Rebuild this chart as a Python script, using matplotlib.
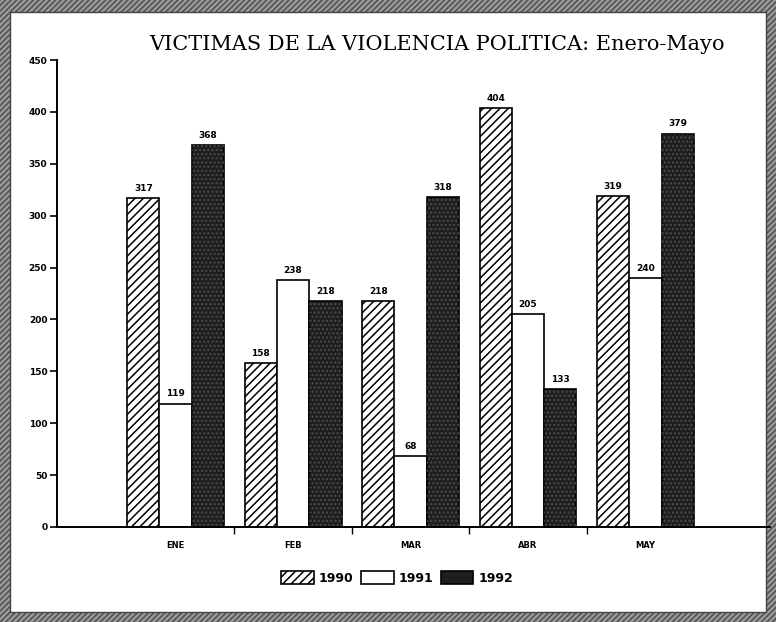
import matplotlib
matplotlib.use("Agg")
import matplotlib.pyplot as plt
from matplotlib.patches import Rectangle
import numpy as np

# datos
meses = ["ENE", "FEB", "MAR", "ABR", "MAY"]
anios = ["1990", "1991", "1992"]
v1990 = [317, 158, 218, 404, 319]
v1991 = [119, 238, 68, 205, 240]
v1992 = [368, 218, 318, 133, 379]
yticks = [0, 50, 100, 150, 200, 250, 300, 350, 400, 450]

plt.rcParams["hatch.linewidth"] = 1.1

fig = plt.figure(figsize=(7.76, 6.22), dpi=100)
# marco gris rayado alrededor de la figura
fig.patch.set_facecolor("#9a9a9a")
fig.patch.set_hatch("//////")
fig.patch.set_edgecolor("#505050")
fig.patches.append(Rectangle((10 / 776, 10 / 622), 756 / 776, 600 / 622,
                             transform=fig.transFigure, facecolor="white",
                             edgecolor="#444444", linewidth=1.0, zorder=-5))

ax = fig.add_axes([57 / 776, 95 / 622, 713 / 776, 467 / 622])
ax.set_facecolor("none")
ax.set_zorder(2)

x = np.arange(len(meses))
w = 0.275
series = [v1990, v1991, v1992]
estilos = [
    dict(facecolor="white", edgecolor="black", hatch="////"),
    dict(facecolor="white", edgecolor="black"),
    dict(facecolor="#1e1e1e", edgecolor="black"),
]

handles = []
for i, (vals, st) in enumerate(zip(series, estilos)):
    pos = x + (i - 1) * w
    b = ax.bar(pos, vals, w, linewidth=1.2, label=anios[i], **st)
    handles.append(b)
    if i == 2:
        # textura moteada de las barras oscuras
        ax.bar(pos, vals, w, facecolor="none", edgecolor="#4a4a4a",
               hatch="....", linewidth=0)
    for p, v in zip(pos, vals):
        ax.text(p, v + 5, str(v), ha="center", va="bottom",
                fontsize=6.5, fontweight="bold")

ax.set_xlim(-1.01, 5.06)
ax.set_ylim(0, 450)
ax.set_yticks(yticks)
ax.set_yticklabels([str(t) for t in yticks], fontsize=6.5, fontweight="bold")
ax.tick_params(axis="y", length=5, width=1.2, direction="out", pad=2)

ax.set_xticks(x)
ax.set_xticklabels(meses, fontsize=6, fontweight="bold")
ax.tick_params(axis="x", which="major", length=0, pad=10)
ax.set_xticks(x[:-1] + 0.5, minor=True)
ax.tick_params(axis="x", which="minor", length=5, width=1.0, direction="out")

for s in ["top", "right"]:
    ax.spines[s].set_visible(False)
ax.spines["left"].set_linewidth(1.4)
ax.spines["bottom"].set_linewidth(1.4)

fig.text(0.563, 0.928, "VICTIMAS DE LA VIOLENCIA POLITICA: Enero-Mayo",
         ha="center", va="center", fontsize=15, family="DejaVu Serif")

fig.legend(handles=handles, labels=anios, loc="center", ncol=3,
           bbox_to_anchor=(0.512, 0.071), frameon=False,
           prop={"weight": "bold", "size": 9},
           handlelength=2.6, handleheight=1.3, handletextpad=0.4,
           columnspacing=0.6)

fig.savefig("out.png", dpi=100)
